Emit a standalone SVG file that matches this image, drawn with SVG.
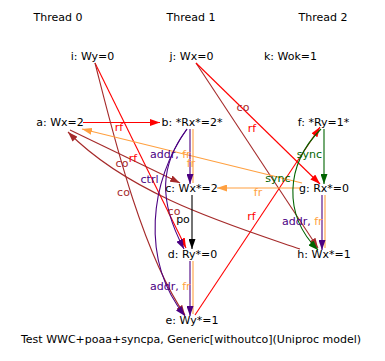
<svg xmlns="http://www.w3.org/2000/svg" width="385" height="361" viewBox="0 0 385 361">
<style>
text{font-family:"DejaVu Sans","Liberation Sans",sans-serif;font-size:11px;fill:#000}
.m{text-anchor:middle}
.e{fill:none;stroke-width:1.1}
.red{stroke:#ff0000}.brn{stroke:#a52a2a}.org{stroke:#ffa040}.pur{stroke:#4b0082}.grn{stroke:#006400}.blk{stroke:#000}
.tred{fill:#ff0000}.tbrn{fill:#a52a2a}.torg{fill:#ffa040}.tpur{fill:#4b0082}.tgrn{fill:#006400}
</style>
<defs>
<marker id="ared" viewBox="0 0 10 7" refX="10" refY="3.5" markerWidth="10" markerHeight="7" markerUnits="userSpaceOnUse" orient="auto"><path d="M0,0L10,3.5L0,7z" fill="#ff0000"/></marker>
<marker id="abrn" viewBox="0 0 10 7" refX="10" refY="3.5" markerWidth="10" markerHeight="7" markerUnits="userSpaceOnUse" orient="auto"><path d="M0,0L10,3.5L0,7z" fill="#a52a2a"/></marker>
<marker id="aorg" viewBox="0 0 10 7" refX="10" refY="3.5" markerWidth="10" markerHeight="7" markerUnits="userSpaceOnUse" orient="auto"><path d="M0,0L10,3.5L0,7z" fill="#ffa040"/></marker>
<marker id="apur" viewBox="0 0 10 7" refX="10" refY="3.5" markerWidth="10" markerHeight="7" markerUnits="userSpaceOnUse" orient="auto"><path d="M0,0L10,3.5L0,7z" fill="#4b0082"/></marker>
<marker id="agrn" viewBox="0 0 10 7" refX="10" refY="3.5" markerWidth="10" markerHeight="7" markerUnits="userSpaceOnUse" orient="auto"><path d="M0,0L10,3.5L0,7z" fill="#006400"/></marker>
<marker id="ablk" viewBox="0 0 10 7" refX="10" refY="3.5" markerWidth="10" markerHeight="7" markerUnits="userSpaceOnUse" orient="auto"><path d="M0,0L10,3.5L0,7z" fill="#000"/></marker>
</defs>
<rect width="385" height="361" fill="#fff"/>
<g id="threads">
<text class="m" x="58" y="21">Thread 0</text>
<text class="m" x="191" y="21">Thread 1</text>
<text class="m" x="323" y="21">Thread 2</text>
</g>
<g id="edges">
<path class="e red" d="M83,122.5L160,122.5" marker-end="url(#ared)"/>
<path class="e red" d="M95,63L186,248" marker-end="url(#ared)"/>
<path class="e brn" d="M95,63C110,121 140,250 185,315" marker-end="url(#abrn)"/>
<path class="e brn" d="M196,63L318,248" marker-end="url(#abrn)"/>
<path class="e red" d="M196,63L320,184" marker-end="url(#ared)"/>
<path class="e red" d="M195,315L320,127" marker-end="url(#ared)"/>
<path class="e brn" d="M300,249C230,225 130,195 68,132" marker-end="url(#abrn)"/>
<path class="e brn" d="M70,130L180,183" marker-end="url(#abrn)"/>
<path class="e org" d="M302,183L82,129" marker-end="url(#aorg)"/>
<path class="e org" d="M300,188L217,188" marker-end="url(#aorg)"/>
<path class="e org" d="M193,129L193,183"/>
<path class="e pur" d="M190,129L190,184" marker-end="url(#apur)"/>
<path class="e blk" d="M192,195L192,249" marker-end="url(#ablk)"/>
<path class="e org" d="M193,261L193,314"/>
<path class="e pur" d="M190,261L190,316" marker-end="url(#apur)"/>
<path class="e org" d="M325,195L325,248"/>
<path class="e pur" d="M322,195L322,250" marker-end="url(#apur)"/>
<path class="e grn" d="M324,129L324,184" marker-end="url(#agrn)"/>
<path class="e grn" d="M321,129C285,165 283,215 318,250" marker-end="url(#agrn)"/>
<path class="e pur" d="M187,129C160,165 158,200 184,249" marker-end="url(#apur)"/>
<path class="e pur" d="M187,129C150,180 140,260 185,316" marker-end="url(#apur)"/>
<text class="m tred" x="119" y="131">rf</text>
<text class="m tred" x="133" y="162">rf</text>
<text class="m tbrn" x="122" y="167">co</text>
<text class="m tbrn" x="123.5" y="196">co</text>
<text class="m tbrn" x="243" y="111">co</text>
<text class="m tred" x="252" y="132">rf</text>
<text x="150" y="158"><tspan class="tpur">addr,</tspan><tspan class="torg"> fr</tspan></text>
<text class="m torg" x="191" y="167">fr</text>
<text class="m tpur" x="149.5" y="183">ctrl</text>
<text class="m tgrn" x="309.5" y="158">sync</text>
<text class="m tgrn" x="278" y="182">sync</text>
<text class="m torg" x="258" y="196">fr</text>
<text class="m tred" x="251.5" y="220">rf</text>
<text x="282" y="225"><tspan class="tpur">addr,</tspan><tspan class="torg"> fr</tspan></text>
<text class="m" x="183" y="223">po</text>
<text class="m tbrn" x="174" y="215">co</text>
<text x="150" y="290"><tspan class="tpur">addr,</tspan><tspan class="torg"> fr</tspan></text>
</g>
<g id="i"><text class="m" x="92.5" y="60">i: Wy=0</text></g>
<g id="j"><text class="m" x="191.5" y="60">j: Wx=0</text></g>
<g id="k"><text class="m" x="290.5" y="60">k: Wok=1</text></g>
<g id="a"><text class="m" x="60" y="126">a: Wx=2</text></g>
<g id="b"><text class="m" x="192" y="126">b: *Rx*=2*</text></g>
<g id="f"><text class="m" x="323.5" y="126">f: *Ry=1*</text></g>
<g id="c"><text class="m" x="191.5" y="192">c: Wx*=2</text></g>
<g id="g"><text class="m" x="324" y="192">g: Rx*=0</text></g>
<g id="d"><text class="m" x="192.5" y="258">d: Ry*=0</text></g>
<g id="h"><text class="m" x="324" y="258">h: Wx*=1</text></g>
<g id="e"><text class="m" x="192" y="324">e: Wy*=1</text></g>
<text class="m" x="191" y="343">Test WWC+poaa+syncpa, Generic[withoutco](Uniproc model)</text>
</svg>
